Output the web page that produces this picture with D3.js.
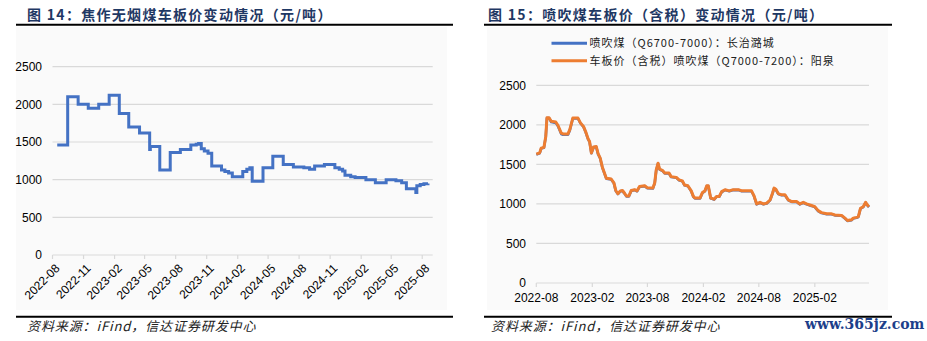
<!DOCTYPE html>
<html>
<head>
<meta charset="utf-8">
<script src="https://cdn.jsdelivr.net/npm/d3@7"></script>
<style>
  html, body { margin: 0; padding: 0; background: #ffffff; }
  svg { display: block; }
</style>
</head>
<body>
<svg id="page" width="927" height="341"></svg>
<script>
// ---- 图14：焦作无烟煤车板价（元/吨），阶梯式报价 ----
const jiaozuoDates = [
  "2022-08-15","2022-09-15","2022-10-16","2022-11-15","2022-12-16","2023-01-16",
  "2023-02-15","2023-03-15","2023-04-16","2023-05-16","2023-05-18","2023-06-15",
  "2023-07-16","2023-08-15","2023-09-15","2023-10-01","2023-10-08","2023-10-16",
  "2023-10-25","2023-11-05","2023-11-16","2023-12-15","2023-12-25","2024-01-05",
  "2024-01-16","2024-02-16","2024-02-28","2024-03-08","2024-03-15","2024-04-16",
  "2024-05-15","2024-06-15","2024-07-15","2024-08-15","2024-09-01","2024-09-16",
  "2024-10-15","2024-11-15","2024-11-28","2024-12-08","2024-12-15","2025-01-01",
  "2025-01-14","2025-02-15","2025-03-15","2025-04-16","2025-05-15","2025-06-01",
  "2025-06-15","2025-07-13","2025-07-16","2025-07-26","2025-08-06","2025-08-18"
];
const jiaozuoValues = [
  1460, 2100, 2000, 1950, 2000, 2120,
  1880, 1700, 1620, 1400, 1440, 1130,
  1360, 1400, 1460, 1470, 1480, 1410,
  1380, 1350, 1180, 1130, 1110, 1090,
  1040, 1110, 1140, 1160, 980, 1160,
  1310, 1200, 1170, 1160, 1140, 1180,
  1200, 1160, 1140, 1115, 1060, 1040,
  1030, 1000, 960, 1000, 985, 960,
  880, 830, 920, 935, 945, 950
];
const jiaozuoTicks = [
  "2022-08","2022-11","2023-02","2023-05","2023-08","2023-11","2024-02",
  "2024-05","2024-08","2024-11","2025-02","2025-05","2025-08"
];

// ---- 图15：喷吹煤车板价（含税，元/吨） ----
const penchuiDates = [
  "2022-08-01","2022-08-12","2022-08-17","2022-08-26","2022-09-01","2022-09-05",
  "2022-09-12","2022-09-19","2022-10-04","2022-10-11","2022-10-22","2022-10-28",
  "2022-11-13","2022-11-19","2022-11-29","2022-12-16","2022-12-24","2023-01-03",
  "2023-01-10","2023-01-18","2023-01-23","2023-01-29","2023-02-05","2023-02-14",
  "2023-02-20","2023-02-27","2023-03-06","2023-03-19","2023-04-04","2023-04-13",
  "2023-04-19","2023-04-26","2023-05-04","2023-05-11","2023-05-18","2023-05-24",
  "2023-06-01","2023-06-09","2023-06-20","2023-06-28","2023-07-06","2023-07-23",
  "2023-07-31","2023-08-19","2023-08-25","2023-08-30","2023-09-05","2023-09-10",
  "2023-09-19","2023-09-27","2023-10-11","2023-10-18","2023-11-04","2023-11-13",
  "2023-11-24","2023-12-01","2023-12-12","2023-12-23","2023-12-30","2024-01-04",
  "2024-01-21","2024-01-29","2024-02-06","2024-02-12","2024-02-17","2024-02-25",
  "2024-03-07","2024-03-15","2024-03-24","2024-04-01","2024-04-12","2024-04-26",
  "2024-05-09","2024-05-26","2024-06-06","2024-07-08","2024-07-16","2024-07-25",
  "2024-08-05","2024-08-16","2024-08-27","2024-09-07","2024-09-15","2024-09-20",
  "2024-09-26","2024-10-04","2024-10-15","2024-10-26","2024-11-06","2024-11-17",
  "2024-12-03","2024-12-14","2024-12-25","2025-01-05","2025-01-21","2025-02-01",
  "2025-02-12","2025-02-23","2025-03-12","2025-03-28","2025-04-08","2025-04-30",
  "2025-05-11","2025-05-19","2025-06-02","2025-06-07","2025-06-18","2025-06-24",
  "2025-07-01","2025-07-10","2025-07-18","2025-07-23","2025-07-29"
];
// 长治潞城 Q6700-7000
const luchengValues = [
  1625, 1640, 1700, 1710, 1845, 2085,
  2085, 2035, 2025, 1985, 1885, 1875,
  1875, 1930, 2080, 2080, 2020, 1975,
  1910, 1820, 1785, 1640, 1715, 1720,
  1630, 1575, 1460, 1320, 1310, 1260,
  1165, 1125, 1160, 1165, 1130, 1095,
  1095, 1165, 1175, 1160, 1215, 1225,
  1200, 1195, 1260, 1425, 1510, 1435,
  1420, 1385, 1385, 1340, 1330, 1300,
  1285, 1235, 1225, 1160, 1090, 1070,
  1070, 1140, 1160, 1225, 1225, 1070,
  1055, 1090, 1090, 1150, 1175, 1160,
  1175, 1175, 1160, 1160, 1100, 995,
  1015, 995, 1005, 1045, 1130, 1195,
  1180, 1125, 1110, 1110, 1045, 1025,
  1025, 995, 1015, 995, 975, 960,
  910, 885, 870, 870, 855, 850,
  815, 785, 795, 815, 825, 835,
  940, 960, 1015, 985, 960
];
// 阳泉 Q7000-7200
const yangquanValues = [
  1630, 1645, 1705, 1715, 1850, 2090,
  2090, 2045, 2035, 1995, 1895, 1885,
  1885, 1940, 2085, 2085, 2025, 1980,
  1915, 1825, 1790, 1645, 1720, 1725,
  1635, 1580, 1465, 1325, 1315, 1265,
  1170, 1130, 1165, 1170, 1135, 1100,
  1100, 1170, 1180, 1165, 1220, 1230,
  1205, 1200, 1265, 1430, 1515, 1440,
  1425, 1390, 1390, 1345, 1335, 1305,
  1290, 1240, 1230, 1165, 1095, 1075,
  1075, 1145, 1165, 1230, 1230, 1075,
  1060, 1095, 1095, 1155, 1180, 1165,
  1180, 1180, 1165, 1165, 1105, 1000,
  1020, 1000, 1010, 1050, 1135, 1200,
  1185, 1130, 1115, 1115, 1050, 1030,
  1030, 1000, 1020, 1000, 980, 965,
  915, 890, 875, 875, 860, 855,
  820, 790, 800, 820, 830, 840,
  945, 965, 1020, 990, 965
];
const penchuiTicks = ["2022-08","2023-02","2023-08","2024-02","2024-08","2025-02"];

const valueTicks = [0, 500, 1000, 1500, 2000, 2500];
const legendNames = [
  "喷吹煤（Q6700-7000）：长治潞城",
  "车板价（含税）喷吹煤（Q7000-7200）：阳泉"
];
const seriesColors = ["#4472c4", "#ed7d31"];

const parseDay = d3.timeParse("%Y-%m-%d");
const parseMonth = d3.timeParse("%Y-%m");

const LATIN = "'Liberation Sans', Arial, sans-serif";
const CJK = "'Noto Sans CJK SC', 'Noto Sans', sans-serif";
const TITLE_COLOR = "#1f3864";
const GRID = "#d9d9d9";

const svg = d3.select("#page");

// ---------- shared furniture ----------
function frame(opts) {
  svg.append("rect")
    .attr("x", opts.panel[0]).attr("y", opts.panel[1])
    .attr("width", opts.panel[2]).attr("height", opts.panel[3])
    .attr("fill", "#fafafa");
  svg.append("text")
    .attr("x", opts.titleX).attr("y", 19.5)
    .attr("font-family", CJK).attr("font-size", 14).attr("font-weight", 700)
    .attr("letter-spacing", 1.3)
    .attr("fill", TITLE_COLOR)
    .text(opts.title);
  svg.append("line")
    .attr("x1", opts.rule[0]).attr("x2", opts.rule[1])
    .attr("y1", 24.8).attr("y2", 24.8)
    .attr("stroke", "#000").attr("stroke-width", 2);
  svg.append("line")
    .attr("x1", opts.rule[0]).attr("x2", opts.rule[1])
    .attr("y1", 316.8).attr("y2", 316.8)
    .attr("stroke", "#000").attr("stroke-width", 2);
  svg.append("text")
    .attr("x", opts.sourceX).attr("y", 330.5)
    .attr("font-family", CJK).attr("font-size", 13).attr("font-style", "italic")
    .attr("letter-spacing", 0.9)
    .attr("fill", "#222")
    .text("资料来源：iFind，信达证券研发中心");
}

function valueAxis(y, x0, x1, labelX) {
  const g = svg.append("g");
  g.selectAll("line.grid").data(valueTicks.filter(v => v > 0)).join("line")
    .attr("x1", x0).attr("x2", x1)
    .attr("y1", d => y(d)).attr("y2", d => y(d))
    .attr("stroke", GRID).attr("stroke-width", 1.2);
  g.selectAll("text").data(valueTicks).join("text")
    .attr("x", labelX).attr("y", d => y(d)).attr("dy", "0.36em")
    .attr("text-anchor", "end")
    .attr("font-family", LATIN).attr("font-size", 12).attr("fill", "#000")
    .text(d => d);
}

// ---------- 图14 ----------
frame({
  panel: [16, 27, 431, 283],
  title: "图 14：焦作无烟煤车板价变动情况（元/吨）",
  titleX: 27, rule: [16, 453], sourceX: 27
});

const xL = d3.scaleTime()
  .domain([parseDay("2022-08-01"), parseDay("2025-09-01")])
  .range([52.5, 432.7]);
const yL = d3.scaleLinear().domain([0, 2500]).range([255, 66.7]);

valueAxis(yL, 52.5, 432.7, 42);

const axL = svg.append("g").attr("transform", "translate(0,255)");
axL.append("line").attr("x1", 52.5).attr("x2", 432.7)
  .attr("stroke", GRID).attr("stroke-width", 1.2);
axL.selectAll("line.tick").data(jiaozuoTicks).join("line")
  .attr("x1", d => xL(parseMonth(d))).attr("x2", d => xL(parseMonth(d)))
  .attr("y1", 0).attr("y2", 4)
  .attr("stroke", GRID).attr("stroke-width", 1.2);
axL.selectAll("text").data(jiaozuoTicks).join("text")
  .attr("transform", d => `translate(${xL(parseMonth(d)) + 5},11) rotate(-45)`)
  .attr("text-anchor", "end").attr("dy", "0.36em")
  .attr("font-family", LATIN).attr("font-size", 12).attr("fill", "#000")
  .text(d => d);

const jiaozuo = jiaozuoDates.map((d, i) => ({ t: parseDay(d), v: jiaozuoValues[i] }));
svg.append("path")
  .datum(jiaozuo)
  .attr("fill", "none")
  .attr("stroke", "#4472c4")
  .attr("stroke-width", 3)
  .attr("stroke-linejoin", "miter")
  .attr("d", d3.line().x(d => xL(d.t)).y(d => yL(d.v)).curve(d3.curveStepAfter));

// ---------- 图15 ----------
frame({
  panel: [487, 27, 401, 283],
  title: "图 15：喷吹煤车板价（含税）变动情况（元/吨）",
  titleX: 488, rule: [484, 892], sourceX: 491
});

const xR = d3.scaleTime()
  .domain([parseDay("2022-08-01"), parseDay("2025-07-29")])
  .range([536.3, 869]);
const yR = d3.scaleLinear().domain([0, 2500]).range([283, 85.3]);

valueAxis(yR, 536.3, 869, 526);

const axR = svg.append("g").attr("transform", "translate(0,283)");
axR.append("line").attr("x1", 536.3).attr("x2", 869)
  .attr("stroke", GRID).attr("stroke-width", 1.2);
axR.selectAll("line.tick").data(penchuiTicks).join("line")
  .attr("x1", d => xR(parseMonth(d))).attr("x2", d => xR(parseMonth(d)))
  .attr("y1", 0).attr("y2", 4)
  .attr("stroke", GRID).attr("stroke-width", 1.2);
axR.selectAll("text").data(penchuiTicks).join("text")
  .attr("x", d => xR(parseMonth(d))).attr("y", 19)
  .attr("text-anchor", "middle")
  .attr("font-family", LATIN).attr("font-size", 12).attr("fill", "#000")
  .text(d => d);

const lineR = d3.line().x(d => xR(d.t)).y(d => yR(d.v)).curve(d3.curveLinear);
[luchengValues, yangquanValues].forEach((vals, k) => {
  const pts = penchuiDates.map((d, i) => ({ t: parseDay(d), v: vals[i] }));
  svg.append("path")
    .datum(pts)
    .attr("fill", "none")
    .attr("stroke", seriesColors[k])
    .attr("stroke-width", k === 0 ? 2.6 : 3)
    .attr("stroke-linejoin", "round")
    .attr("d", lineR);
});

// legend
const lg = svg.append("g");
legendNames.forEach((name, k) => {
  const ly = 43.3 + k * 17.4;
  lg.append("line")
    .attr("x1", 551.5).attr("x2", 587)
    .attr("y1", ly).attr("y2", ly)
    .attr("stroke", seriesColors[k]).attr("stroke-width", 3);
  lg.append("text")
    .attr("x", 589.5).attr("y", ly).attr("dy", "0.36em")
    .attr("font-family", CJK).attr("font-size", 11)
    .attr("letter-spacing", 1)
    .attr("fill", "#222")
    .text(name);
});

// site mark at the lower right
svg.append("text")
  .attr("x", 805).attr("y", 329)
  .attr("font-family", "'DejaVu Serif', 'Liberation Serif', serif")
  .attr("font-size", 14).attr("font-weight", 700)
  .attr("fill", "#1d3f8a")
  .text("www.365jz.com");
</script>
</body>
</html>
